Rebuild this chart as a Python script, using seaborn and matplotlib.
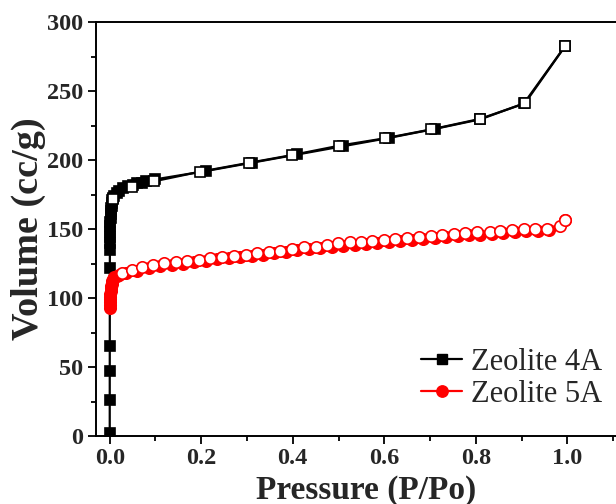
import matplotlib
matplotlib.use("Agg")
import matplotlib.pyplot as plt
from matplotlib.ticker import MultipleLocator
from matplotlib.lines import Line2D
import seaborn as sns
import pandas as pd

# Zeolite 4A isotherm (relative pressure P/Po, adsorbed volume cc/g)
z4a_ads_p = [0.00001, 0.00002, 0.00005, 0.0001, 0.0002, 0.0004, 0.0006, 0.0008,
             0.001, 0.0013, 0.0016, 0.002, 0.0025, 0.003, 0.0035, 0.004, 0.005,
             0.006, 0.008, 0.01, 0.015, 0.02, 0.03, 0.04, 0.05, 0.06, 0.07, 0.08,
             0.1, 0.21, 0.31, 0.41, 0.51, 0.61, 0.71, 0.81, 0.905, 0.995]
z4a_ads_v = [2, 26, 47, 65, 122, 135, 140, 144, 148, 152, 155, 158, 161, 163,
             165, 167, 169, 171, 172.5, 174, 176, 177.5, 180, 181.5, 182, 183,
             183.5, 184.5, 186, 192, 198, 204, 210, 216, 222.5, 229.5, 241, 282.5]
z4a_des_p = [0.007, 0.048, 0.096, 0.197, 0.305, 0.399, 0.502, 0.601, 0.703,
             0.808, 0.907, 0.995]
z4a_des_v = [171.5, 180.5, 184.5, 191.5, 198, 203.6, 210.4, 215.7, 222.2,
             229.7, 241, 282.5]

# Zeolite 5A isotherm
z5a_ads_p = [0.0002, 0.0004, 0.0006, 0.0008, 0.001, 0.0015, 0.002, 0.0025,
             0.003, 0.004, 0.005, 0.006, 0.008, 0.010, 0.015, 0.02, 0.035, 0.06,
             0.085, 0.11, 0.135, 0.16, 0.185, 0.21, 0.235, 0.26, 0.285, 0.31,
             0.335, 0.36, 0.385, 0.41, 0.435, 0.46, 0.485, 0.51, 0.535, 0.56,
             0.585, 0.61, 0.635, 0.66, 0.685, 0.71, 0.735, 0.76, 0.785, 0.81,
             0.835, 0.86, 0.885, 0.91, 0.935, 0.96, 0.995]
z5a_ads_v = [93, 95, 97, 99, 101, 103, 105, 107, 108.5, 110, 111.5, 112.5, 114,
             115, 116, 117, 118, 119.5, 121.5, 123, 124, 125, 126, 127, 128, 129,
             129.8, 130.5, 131.5, 132.5, 133.5, 134.5, 135.5, 136.3, 137, 138,
             138.7, 139.3, 140, 140.7, 141.3, 142, 142.7, 143.3, 144, 144.7,
             145.3, 146, 146.7, 147.3, 147.8, 148.3, 148.8, 149.2, 156.5]
z5a_des_p = [0.026, 0.048, 0.071, 0.095, 0.118, 0.144, 0.169, 0.195, 0.22,
             0.246, 0.271, 0.297, 0.322, 0.348, 0.373, 0.399, 0.424, 0.45, 0.475,
             0.499, 0.524, 0.548, 0.573, 0.599, 0.624, 0.65, 0.675, 0.701, 0.726,
             0.752, 0.777, 0.803, 0.83, 0.853, 0.879, 0.905, 0.93, 0.955, 0.983,
             0.995]
z5a_des_v = [118.4, 120.3, 122.2, 123.9, 125.1, 125.9, 127.0, 127.5, 128.8,
             130.0, 130.7, 131.2, 132.4, 133.6, 134.3, 135.3, 136.7, 137.2, 138.4,
             139.6, 140.3, 140.8, 141.5, 142.0, 142.8, 143.3, 144.0, 144.9, 145.6,
             146.4, 146.9, 147.6, 148.0, 148.8, 149.3, 149.8, 149.8, 150.0, 152.2,
             156.5]

series_labels = ["Zeolite 4A", "Zeolite 5A"]
x_ticks = [0.0, 0.2, 0.4, 0.6, 0.8, 1.0]
y_ticks = [0, 50, 100, 150, 200, 250, 300]

sns.set_style("ticks")
plt.rcParams["font.family"] = ["Liberation Serif", "DejaVu Serif"]

fig = plt.figure(figsize=(6.16, 5.04), dpi=100)
ax = fig.add_axes([96 / 616, 68 / 504, 524 / 616, 414 / 504])
ax.set_facecolor("white")

SQ = 7.6
CI = 8.2


def draw(p, v, color, marker, ms, filled):
    df = pd.DataFrame({"p": p, "v": v})
    sns.lineplot(data=df, x="p", y="v", ax=ax, color=color, sort=False,
                 estimator=None, linewidth=1.6, marker=marker, markersize=ms,
                 markerfacecolor=color if filled else "white",
                 markeredgecolor=color, markeredgewidth=1.2)


draw(z4a_ads_p, z4a_ads_v, "black", "s", SQ, True)
draw(z4a_des_p, z4a_des_v, "black", "s", SQ, False)
draw(z5a_ads_p, z5a_ads_v, "red", "o", CI, True)
draw(z5a_des_p, z5a_des_v, "red", "o", CI, False)

ax.set_xlim(-0.03, 1.115)
ax.set_ylim(0, 300)
ax.set_xticks(x_ticks)
ax.set_xticklabels([f"{t:.1f}" for t in x_ticks])
ax.set_yticks(y_ticks)
ax.set_yticklabels([str(t) for t in y_ticks])
ax.xaxis.set_minor_locator(MultipleLocator(0.1))
ax.yaxis.set_minor_locator(MultipleLocator(25))
ax.tick_params(which="major", direction="out", length=6, width=1.3,
               labelsize=17.5, pad=3, color="black")
ax.tick_params(which="minor", direction="out", length=3.5, width=1.3,
               color="black")
for lab in ax.get_xticklabels() + ax.get_yticklabels():
    lab.set_fontweight("bold")

for side in ("left", "bottom", "top"):
    ax.spines[side].set_linewidth(1.4)
    ax.spines[side].set_color("black")
ax.spines["right"].set_visible(False)

ax.set_xlabel("Pressure (P/Po)", fontsize=24, fontweight="bold")
ax.set_ylabel("Volume (cc/g)", fontsize=27.5, fontweight="bold")
ax.xaxis.set_label_coords((366 - 96) / 524, -(490 - 436) / 414)
ax.yaxis.set_label_coords(-(96 - 28) / 524, 0.5)
ax.xaxis.label.set_va("center")
ax.yaxis.label.set_va("center")

handles = [
    Line2D([], [], color="black", marker="s", markersize=SQ, linewidth=1.6),
    Line2D([], [], color="red", marker="o", markersize=CI, linewidth=1.6),
]
ax.legend(handles, series_labels, loc="upper left", frameon=False,
          fontsize=22, handlelength=1.35, handletextpad=0.3,
          labelspacing=0.1, borderpad=0, borderaxespad=0,
          bbox_to_anchor=(421 / 616, 1 - 348 / 504),
          bbox_transform=fig.transFigure)

fig.savefig("out.png", dpi=100, facecolor="white")
